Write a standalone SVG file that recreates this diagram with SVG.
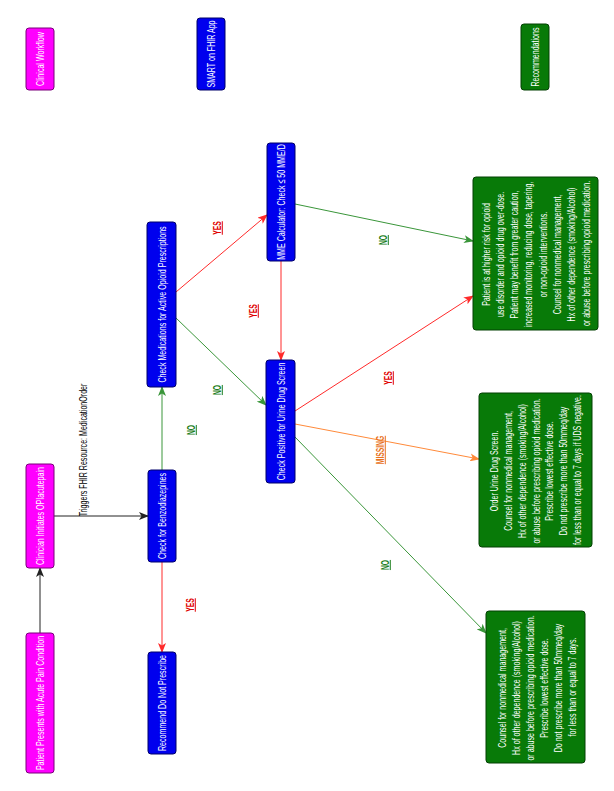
<svg xmlns="http://www.w3.org/2000/svg" width="614" height="791" viewBox="0 0 614 791">
<style>
.bg{fill:#ffffff}
.mag{fill:#ff00ff;stroke:#7a007a;stroke-width:1}
.blu{fill:#0000ee;stroke:#00006a;stroke-width:1}
.grn{fill:#087a08;stroke:#034003;stroke-width:1}
.t{font-family:"Liberation Sans",Arial,sans-serif;font-size:11.5px;fill:#ffffff;text-anchor:middle}
.el{font-family:"Liberation Sans",Arial,sans-serif;font-size:11.5px;fill:#000000;text-anchor:middle}
.lb{font-family:"Liberation Sans",Arial,sans-serif;font-size:10px;font-weight:bold;text-anchor:middle;text-decoration:underline}
.ly{fill:#e00000}
.ln{fill:#1b7d1b}
.lm{fill:#e8721c}
.e{fill:none;stroke-width:1}
.ek{stroke:#222222}
.er{stroke:#ff2a2a}
.eg{stroke:#3a963a}
.eo{stroke:#ff8a3a}
</style>
<defs>
<marker id="ak" markerUnits="userSpaceOnUse" markerWidth="10" markerHeight="8" refX="9" refY="4" orient="auto"><path d="M0,0 L10,4 L0,8 L2.5,4 z" fill="#222222"/></marker>
<marker id="ar" markerUnits="userSpaceOnUse" markerWidth="10" markerHeight="8" refX="9" refY="4" orient="auto"><path d="M0,0 L10,4 L0,8 L2.5,4 z" fill="#ff2a2a"/></marker>
<marker id="ag" markerUnits="userSpaceOnUse" markerWidth="10" markerHeight="8" refX="9" refY="4" orient="auto"><path d="M0,0 L10,4 L0,8 L2.5,4 z" fill="#3a963a"/></marker>
<marker id="ao" markerUnits="userSpaceOnUse" markerWidth="10" markerHeight="8" refX="9" refY="4" orient="auto"><path d="M0,0 L10,4 L0,8 L2.5,4 z" fill="#ff8a3a"/></marker>
</defs>
<rect class="bg" x="0" y="0" width="614" height="791"/>

<g id="connectors">
<line class="e ek" x1="40" y1="633" x2="40" y2="568" marker-end="url(#ak)"/>
<line class="e ek" x1="54" y1="516" x2="148" y2="516" marker-end="url(#ak)"/>
<text class="el" transform="translate(83,450) rotate(-90) scale(0.616,1)" y="4">Triggers FHIR Resource: MedicationOrder</text>
<line class="e er" x1="162" y1="562" x2="162" y2="652" marker-end="url(#ar)"/>
<text class="lb ly" transform="translate(190,605) rotate(-90) scale(0.675,1)" y="3.6">YES</text>
<line class="e eg" x1="162" y1="470" x2="162" y2="387" marker-end="url(#ag)"/>
<text class="lb ln" transform="translate(191,430) rotate(-90) scale(0.675,1)" y="3.6">NO</text>
<line class="e er" x1="176" y1="292" x2="267" y2="215" marker-end="url(#ar)"/>
<text class="lb ly" transform="translate(217,228) rotate(-90) scale(0.675,1)" y="3.6">YES</text>
<line class="e eg" x1="176" y1="318" x2="266" y2="405" marker-end="url(#ag)"/>
<text class="lb ln" transform="translate(217,390) rotate(-90) scale(0.675,1)" y="3.6">NO</text>
<line class="e er" x1="281" y1="261" x2="281" y2="360" marker-end="url(#ar)"/>
<text class="lb ly" transform="translate(253,311) rotate(-90) scale(0.675,1)" y="3.6">YES</text>
<line class="e eg" x1="295" y1="204" x2="473" y2="241" marker-end="url(#ag)"/>
<text class="lb ln" transform="translate(383,240) rotate(-90) scale(0.675,1)" y="3.6">NO</text>
<line class="e er" x1="295" y1="411" x2="473" y2="296" marker-end="url(#ar)"/>
<text class="lb ly" transform="translate(388,378) rotate(-90) scale(0.675,1)" y="3.6">YES</text>
<line class="e eo" x1="295" y1="424" x2="479" y2="459" marker-end="url(#ao)"/>
<text class="lb lm" transform="translate(380,450) rotate(-90) scale(0.675,1)" y="3.6">MISSING</text>
<line class="e eg" x1="295" y1="437" x2="486" y2="633" marker-end="url(#ag)"/>
<text class="lb ln" transform="translate(385,565) rotate(-90) scale(0.675,1)" y="3.6">NO</text>
</g>

<g id="legend-clinical">
<rect class="mag" x="26" y="28" width="28" height="62" rx="3"/>
<text class="t" transform="translate(40,59) rotate(-90) scale(0.616,1)" y="4">Clinical Workflow</text>
</g>
<g id="legend-smart">
<rect class="blu" x="197" y="18" width="28" height="72" rx="3"/>
<text class="t" transform="translate(211,54) rotate(-90) scale(0.616,1)" y="4">SMART on FHIR App</text>
</g>
<g id="legend-rec">
<rect class="grn" x="521" y="24" width="28" height="66" rx="3"/>
<text class="t" transform="translate(535,57) rotate(-90) scale(0.616,1)" y="4">Recommendations</text>
</g>

<g id="patient">
<rect class="mag" x="26" y="633" width="28" height="140" rx="3"/>
<text class="t" transform="translate(40,703) rotate(-90) scale(0.616,1)" y="4">Patient Presents with Acute Pain Condition</text>
</g>
<g id="clinician">
<rect class="mag" x="26" y="464" width="28" height="104" rx="3"/>
<text class="t" transform="translate(40,516) rotate(-90) scale(0.616,1)" y="4">Clinician Initiates OPIacutepain</text>
</g>
<g id="benzo">
<rect class="blu" x="148" y="470" width="28" height="92" rx="3"/>
<text class="t" transform="translate(162,516) rotate(-90) scale(0.616,1)" y="4">Check for Benzodiazepines</text>
</g>
<g id="donotprescribe">
<rect class="blu" x="148" y="652" width="28" height="102" rx="3"/>
<text class="t" transform="translate(162,703) rotate(-90) scale(0.616,1)" y="4">Recommend Do Not Prescribe</text>
</g>
<g id="checkmeds">
<rect class="blu" x="147" y="222" width="29" height="165" rx="3"/>
<text class="t" transform="translate(161.5,304.5) rotate(-90) scale(0.616,1)" y="4">Check Medications for Active Opioid Prescriptions</text>
</g>
<g id="mme">
<rect class="blu" x="267" y="143" width="28" height="118" rx="3"/>
<text class="t" transform="translate(281,202) rotate(-90) scale(0.616,1)" y="4">MME Calculator: Check ≤ 50 MME/D</text>
</g>
<g id="uds">
<rect class="blu" x="266" y="360" width="29" height="123" rx="3"/>
<text class="t" transform="translate(280.5,421.5) rotate(-90) scale(0.616,1)" y="4">Check Positive for Urine Drug Screen</text>
</g>

<g id="rec-highrisk">
<rect class="grn" x="473" y="177" width="125" height="153" rx="3"/>
<text class="t" transform="translate(535.5,253.5) rotate(-90) scale(0.616,1)">
<tspan x="0" y="-46">Patient is at higher risk for opioid</tspan>
<tspan x="0" dy="14.3">use disorder and opioid drug over-dose.</tspan>
<tspan x="0" dy="14.3">Patient may benefit from greater caution,</tspan>
<tspan x="0" dy="14.3">increased monitoring, reducing dose, tapering,</tspan>
<tspan x="0" dy="14.3">or non-opioid interventions.</tspan>
<tspan x="0" dy="14.3">Counsel for nonmedical management,</tspan>
<tspan x="0" dy="14.3">Hx of other dependence (smoking/Alcohol)</tspan>
<tspan x="0" dy="14.3">or abuse before prescribing opioid medication.</tspan>
</text>
</g>
<g id="rec-missing">
<rect class="grn" x="479" y="393" width="113" height="154" rx="3"/>
<text class="t" transform="translate(535.5,470) rotate(-90) scale(0.616,1)">
<tspan x="0" y="-38">Order Urine Drug Screen.</tspan>
<tspan x="0" dy="14">Counsel for nonmedical management,</tspan>
<tspan x="0" dy="14">Hx of other dependence (smoking/Alcohol)</tspan>
<tspan x="0" dy="14">or abuse before prescribing opioid medication.</tspan>
<tspan x="0" dy="14">Prescribe lowest effective dose.</tspan>
<tspan x="0" dy="14">Do not prescribe more than 50mmeq/day</tspan>
<tspan x="0" dy="14">for less than or equal to 7 days if UDS negative.</tspan>
</text>
</g>
<g id="rec-negative">
<rect class="grn" x="486" y="611" width="99" height="152" rx="3"/>
<text class="t" transform="translate(537,687) rotate(-90) scale(0.616,1)">
<tspan x="0" y="-31">Counsel for nonmedical management,</tspan>
<tspan x="0" dy="14">Hx of other dependence (smoking/Alcohol)</tspan>
<tspan x="0" dy="14">or abuse before prescribing opioid medication.</tspan>
<tspan x="0" dy="14">Prescribe lowest effective dose.</tspan>
<tspan x="0" dy="14">Do not prescribe more than 50mmeq/day</tspan>
<tspan x="0" dy="14">for less than or equal to 7 days.</tspan>
</text>
</g>
</svg>
